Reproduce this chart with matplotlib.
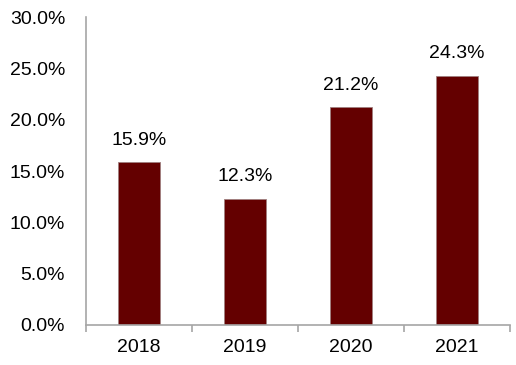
import numpy as np
import matplotlib.pyplot as plt
from matplotlib.ticker import FuncFormatter, FixedLocator

plt.rcParams['font.family'] = ['Liberation Sans', 'DejaVu Sans']

years = ['2018', '2019', '2020', '2021']
rates = [15.9, 12.3, 21.2, 24.3]

fig = plt.figure(figsize=(5.16, 3.65), dpi=100)
ax = fig.add_axes([0.1667, 0.1096, 0.8213, 0.8434])

x = np.arange(len(years))
ax.bar(x, rates, width=0.4, color='#640000', edgecolor='#a08080', linewidth=0.6)
for xi, v in zip(x, rates):
    ax.text(xi, v + 1.3, '%.1f%%' % v, ha='center', va='bottom', fontsize=14)

ax.set_xlim(-0.5, len(years) - 0.5)
ax.set_ylim(0, 30)
ax.set_yticks(np.arange(0, 31, 5))
ax.yaxis.set_major_formatter(FuncFormatter(lambda v, p: '%.1f%%' % v))
ax.set_xticks(x)
ax.set_xticklabels(years)
ax.xaxis.set_minor_locator(FixedLocator(np.arange(-0.5, len(years), 1.0)))

for s in ['top', 'right']:
    ax.spines[s].set_visible(False)
for s in ['left', 'bottom']:
    ax.spines[s].set_color('#a6a6a6')
    ax.spines[s].set_linewidth(1.2)

ax.tick_params(axis='y', length=0, labelsize=14, pad=15)
ax.tick_params(axis='x', which='major', length=0, labelsize=14, pad=10)
ax.tick_params(axis='x', which='minor', length=5, color='#a6a6a6', width=1.2)

fig.savefig('out.png')
